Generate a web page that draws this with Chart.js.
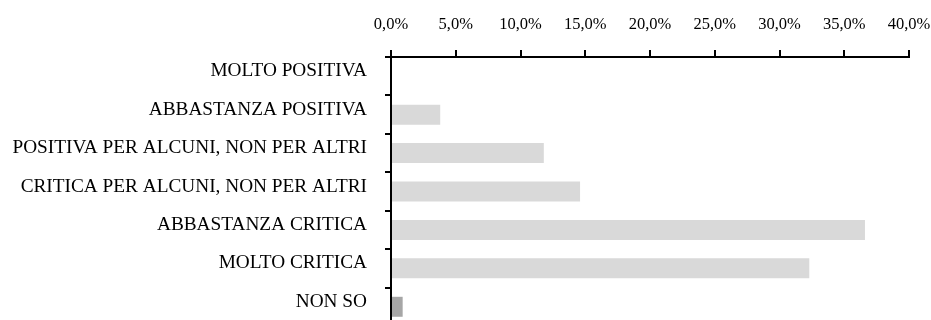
<!DOCTYPE html>
<html>
<head>
<meta charset="utf-8">
<script src="https://cdn.jsdelivr.net/npm/chart.js@4"></script>
<style>
  html, body { margin: 0; padding: 0; background: #fff; overflow: hidden; }
  #wrap { width: 931px; height: 320px; overflow: hidden; }
</style>
</head>
<body>
<div id="wrap">
  <canvas id="myChart" width="931" height="326"></canvas>
</div>
<script>
// categories, top to bottom
const categories = [
  "MOLTO POSITIVA",
  "ABBASTANZA POSITIVA",
  "POSITIVA PER ALCUNI, NON PER ALTRI",
  "CRITICA PER ALCUNI, NON PER ALTRI",
  "ABBASTANZA CRITICA",
  "MOLTO CRITICA",
  "NON SO"
];
// percentages
const values = [0, 3.8, 11.8, 14.6, 36.6, 32.3, 0.9];
const barColors = ["#D9D9D9", "#D9D9D9", "#D9D9D9", "#D9D9D9", "#D9D9D9", "#D9D9D9", "#A6A6A6"];
const xTicks = [0, 5, 10, 15, 20, 25, 30, 35, 40];

const fmt = (v) => v.toFixed(1).replace(".", ",") + "%";

const ctx = document.getElementById("myChart").getContext("2d");

new Chart(ctx, {
  type: "bar",
  data: {
    labels: categories,
    datasets: [
      {
        data: values,
        backgroundColor: barColors,
        borderWidth: 0,
        barPercentage: 0.52,
        categoryPercentage: 1,
      },
    ],
  },
  options: {
    indexAxis: "y",
    responsive: false,
    animation: false,
    layout: { padding: { top: 0, bottom: 0, left: 0, right: 22 } },
    plugins: {
      legend: { display: false },
      tooltip: { enabled: false },
    },
    scales: {
      x: {
        position: "top",
        min: xTicks[0],
        max: xTicks[xTicks.length - 1],
        afterBuildTicks: (scale) => {
          scale.ticks = xTicks.map((v) => ({ value: v }));
        },
        // keep the axis line where the reference has it
        afterFit: (scale) => {
          scale.height = 57;
          scale.paddingLeft = 0;
          scale.paddingRight = 0;
        },
        ticks: {
          callback: (v) => fmt(v),
          color: "#000",
          padding: 15,
          maxRotation: 0,
          font: { family: "'Liberation Serif', serif", size: 16.5 },
        },
        grid: {
          drawOnChartArea: false,
          drawTicks: true,
          tickLength: 7,
          color: "#000",
          lineWidth: 2,
        },
        border: { display: true, color: "#000", width: 2 },
      },
      y: {
        afterFit: (scale) => {
          scale.width = 391;
          scale.paddingTop = 0;
          scale.paddingBottom = 0;
        },
        ticks: {
          color: "#000",
          padding: 18,
          labelOffset: -5,
          autoSkip: false,
          font: { family: "'Liberation Serif', serif", size: 19.3 },
        },
        grid: {
          offset: true,
          drawOnChartArea: false,
          drawTicks: true,
          tickLength: 6,
          color: "#000",
          lineWidth: 2,
        },
        border: { display: true, color: "#000", width: 2 },
      },
    },
  },
});
</script>
</body>
</html>
